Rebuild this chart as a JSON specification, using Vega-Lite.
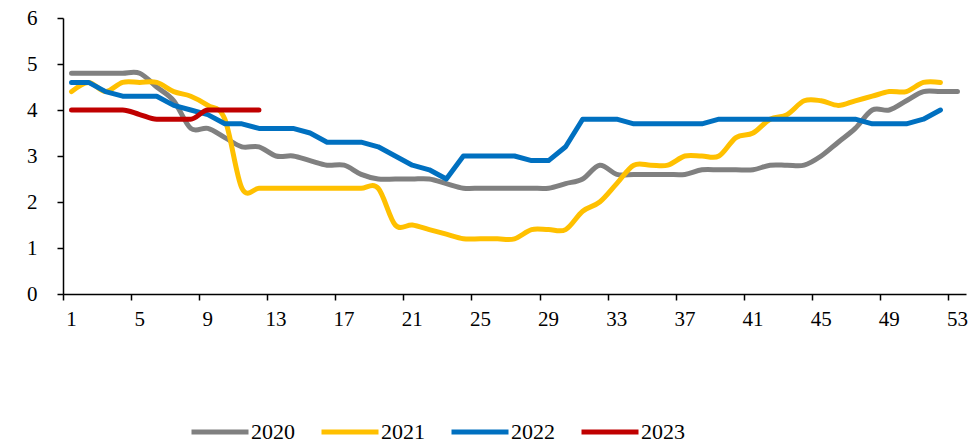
{
  "$schema": "https://vega.github.io/schema/vega-lite/v6.json",
  "width": 903,
  "height": 276,
  "autosize": {"type": "none"},
  "padding": {"left": 63, "top": 18, "right": 10, "bottom": 151},
  "background": "white",
  "config": {
    "view": {"stroke": null},
    "font": "Liberation Serif",
    "axis": {"grid": false, "domainColor": "#000000", "domainWidth": 1.5, "tickColor": "#000000", "tickWidth": 1.5, "labelFont": "Liberation Serif", "labelFontSize": 21, "labelColor": "#000000", "title": null}
  },
  "datasets": {
    "rows": [
      {"week": 1, "year": "2020", "value": 4.8}, {"week": 2, "year": "2020", "value": 4.8}, {"week": 3, "year": "2020", "value": 4.8}, {"week": 4, "year": "2020", "value": 4.8}, {"week": 5, "year": "2020", "value": 4.8}, {"week": 6, "year": "2020", "value": 4.5}, {"week": 7, "year": "2020", "value": 4.2}, {"week": 8, "year": "2020", "value": 3.6}, {"week": 9, "year": "2020", "value": 3.6}, {"week": 10, "year": "2020", "value": 3.4}, {"week": 11, "year": "2020", "value": 3.2}, {"week": 12, "year": "2020", "value": 3.2}, {"week": 13, "year": "2020", "value": 3.0}, {"week": 14, "year": "2020", "value": 3.0}, {"week": 15, "year": "2020", "value": 2.9}, {"week": 16, "year": "2020", "value": 2.8}, {"week": 17, "year": "2020", "value": 2.8}, {"week": 18, "year": "2020", "value": 2.6}, {"week": 19, "year": "2020", "value": 2.5}, {"week": 20, "year": "2020", "value": 2.5}, {"week": 21, "year": "2020", "value": 2.5}, {"week": 22, "year": "2020", "value": 2.5}, {"week": 23, "year": "2020", "value": 2.4}, {"week": 24, "year": "2020", "value": 2.3}, {"week": 25, "year": "2020", "value": 2.3}, {"week": 26, "year": "2020", "value": 2.3}, {"week": 27, "year": "2020", "value": 2.3}, {"week": 28, "year": "2020", "value": 2.3}, {"week": 29, "year": "2020", "value": 2.3}, {"week": 30, "year": "2020", "value": 2.4}, {"week": 31, "year": "2020", "value": 2.5}, {"week": 32, "year": "2020", "value": 2.8}, {"week": 33, "year": "2020", "value": 2.6}, {"week": 34, "year": "2020", "value": 2.6}, {"week": 35, "year": "2020", "value": 2.6}, {"week": 36, "year": "2020", "value": 2.6}, {"week": 37, "year": "2020", "value": 2.6}, {"week": 38, "year": "2020", "value": 2.7}, {"week": 39, "year": "2020", "value": 2.7}, {"week": 40, "year": "2020", "value": 2.7}, {"week": 41, "year": "2020", "value": 2.7}, {"week": 42, "year": "2020", "value": 2.8}, {"week": 43, "year": "2020", "value": 2.8}, {"week": 44, "year": "2020", "value": 2.8}, {"week": 45, "year": "2020", "value": 3.0}, {"week": 46, "year": "2020", "value": 3.3}, {"week": 47, "year": "2020", "value": 3.6}, {"week": 48, "year": "2020", "value": 4.0}, {"week": 49, "year": "2020", "value": 4.0}, {"week": 50, "year": "2020", "value": 4.2}, {"week": 51, "year": "2020", "value": 4.4}, {"week": 52, "year": "2020", "value": 4.4}, {"week": 53, "year": "2020", "value": 4.4},
      {"week": 1, "year": "2021", "value": 4.4}, {"week": 2, "year": "2021", "value": 4.6}, {"week": 3, "year": "2021", "value": 4.4}, {"week": 4, "year": "2021", "value": 4.6}, {"week": 5, "year": "2021", "value": 4.6}, {"week": 6, "year": "2021", "value": 4.6}, {"week": 7, "year": "2021", "value": 4.4}, {"week": 8, "year": "2021", "value": 4.3}, {"week": 9, "year": "2021", "value": 4.1}, {"week": 10, "year": "2021", "value": 3.8}, {"week": 11, "year": "2021", "value": 2.3}, {"week": 12, "year": "2021", "value": 2.3}, {"week": 13, "year": "2021", "value": 2.3}, {"week": 14, "year": "2021", "value": 2.3}, {"week": 15, "year": "2021", "value": 2.3}, {"week": 16, "year": "2021", "value": 2.3}, {"week": 17, "year": "2021", "value": 2.3}, {"week": 18, "year": "2021", "value": 2.3}, {"week": 19, "year": "2021", "value": 2.3}, {"week": 20, "year": "2021", "value": 1.5}, {"week": 21, "year": "2021", "value": 1.5}, {"week": 22, "year": "2021", "value": 1.4}, {"week": 23, "year": "2021", "value": 1.3}, {"week": 24, "year": "2021", "value": 1.2}, {"week": 25, "year": "2021", "value": 1.2}, {"week": 26, "year": "2021", "value": 1.2}, {"week": 27, "year": "2021", "value": 1.2}, {"week": 28, "year": "2021", "value": 1.4}, {"week": 29, "year": "2021", "value": 1.4}, {"week": 30, "year": "2021", "value": 1.4}, {"week": 31, "year": "2021", "value": 1.8}, {"week": 32, "year": "2021", "value": 2.0}, {"week": 33, "year": "2021", "value": 2.4}, {"week": 34, "year": "2021", "value": 2.8}, {"week": 35, "year": "2021", "value": 2.8}, {"week": 36, "year": "2021", "value": 2.8}, {"week": 37, "year": "2021", "value": 3.0}, {"week": 38, "year": "2021", "value": 3.0}, {"week": 39, "year": "2021", "value": 3.0}, {"week": 40, "year": "2021", "value": 3.4}, {"week": 41, "year": "2021", "value": 3.5}, {"week": 42, "year": "2021", "value": 3.8}, {"week": 43, "year": "2021", "value": 3.9}, {"week": 44, "year": "2021", "value": 4.2}, {"week": 45, "year": "2021", "value": 4.2}, {"week": 46, "year": "2021", "value": 4.1}, {"week": 47, "year": "2021", "value": 4.2}, {"week": 48, "year": "2021", "value": 4.3}, {"week": 49, "year": "2021", "value": 4.4}, {"week": 50, "year": "2021", "value": 4.4}, {"week": 51, "year": "2021", "value": 4.6}, {"week": 52, "year": "2021", "value": 4.6},
      {"week": 1, "year": "2022", "value": 4.6}, {"week": 2, "year": "2022", "value": 4.6}, {"week": 3, "year": "2022", "value": 4.4}, {"week": 4, "year": "2022", "value": 4.3}, {"week": 5, "year": "2022", "value": 4.3}, {"week": 6, "year": "2022", "value": 4.3}, {"week": 7, "year": "2022", "value": 4.1}, {"week": 8, "year": "2022", "value": 4.0}, {"week": 9, "year": "2022", "value": 3.9}, {"week": 10, "year": "2022", "value": 3.7}, {"week": 11, "year": "2022", "value": 3.7}, {"week": 12, "year": "2022", "value": 3.6}, {"week": 13, "year": "2022", "value": 3.6}, {"week": 14, "year": "2022", "value": 3.6}, {"week": 15, "year": "2022", "value": 3.5}, {"week": 16, "year": "2022", "value": 3.3}, {"week": 17, "year": "2022", "value": 3.3}, {"week": 18, "year": "2022", "value": 3.3}, {"week": 19, "year": "2022", "value": 3.2}, {"week": 20, "year": "2022", "value": 3.0}, {"week": 21, "year": "2022", "value": 2.8}, {"week": 22, "year": "2022", "value": 2.7}, {"week": 23, "year": "2022", "value": 2.5}, {"week": 24, "year": "2022", "value": 3.0}, {"week": 25, "year": "2022", "value": 3.0}, {"week": 26, "year": "2022", "value": 3.0}, {"week": 27, "year": "2022", "value": 3.0}, {"week": 28, "year": "2022", "value": 2.9}, {"week": 29, "year": "2022", "value": 2.9}, {"week": 30, "year": "2022", "value": 3.2}, {"week": 31, "year": "2022", "value": 3.8}, {"week": 32, "year": "2022", "value": 3.8}, {"week": 33, "year": "2022", "value": 3.8}, {"week": 34, "year": "2022", "value": 3.7}, {"week": 35, "year": "2022", "value": 3.7}, {"week": 36, "year": "2022", "value": 3.7}, {"week": 37, "year": "2022", "value": 3.7}, {"week": 38, "year": "2022", "value": 3.7}, {"week": 39, "year": "2022", "value": 3.8}, {"week": 40, "year": "2022", "value": 3.8}, {"week": 41, "year": "2022", "value": 3.8}, {"week": 42, "year": "2022", "value": 3.8}, {"week": 43, "year": "2022", "value": 3.8}, {"week": 44, "year": "2022", "value": 3.8}, {"week": 45, "year": "2022", "value": 3.8}, {"week": 46, "year": "2022", "value": 3.8}, {"week": 47, "year": "2022", "value": 3.8}, {"week": 48, "year": "2022", "value": 3.7}, {"week": 49, "year": "2022", "value": 3.7}, {"week": 50, "year": "2022", "value": 3.7}, {"week": 51, "year": "2022", "value": 3.8}, {"week": 52, "year": "2022", "value": 4.0},
      {"week": 1, "year": "2023", "value": 4.0}, {"week": 2, "year": "2023", "value": 4.0}, {"week": 3, "year": "2023", "value": 4.0}, {"week": 4, "year": "2023", "value": 4.0}, {"week": 5, "year": "2023", "value": 3.9}, {"week": 6, "year": "2023", "value": 3.8}, {"week": 7, "year": "2023", "value": 3.8}, {"week": 8, "year": "2023", "value": 3.8}, {"week": 9, "year": "2023", "value": 4.0}, {"week": 10, "year": "2023", "value": 4.0}, {"week": 11, "year": "2023", "value": 4.0}, {"week": 12, "year": "2023", "value": 4.0}
    ]
  },
  "data": {"name": "rows"},
  "encoding": {
    "x": {
      "field": "week", "type": "ordinal",
      "scale": {"type": "band", "paddingInner": 0, "paddingOuter": 0, "domain": [1,2,3,4,5,6,7,8,9,10,11,12,13,14,15,16,17,18,19,20,21,22,23,24,25,26,27,28,29,30,31,32,33,34,35,36,37,38,39,40,41,42,43,44,45,46,47,48,49,50,51,52,53]},
      "axis": {"values": [1,5,9,13,17,21,25,29,33,37,41,45,49,53], "bandPosition": 0, "labelAngle": 0, "tickSize": 6, "labelPadding": 8, "labelFlush": false, "labelOverlap": false}
    },
    "y": {
      "field": "value", "type": "quantitative",
      "scale": {"domain": [0, 6], "nice": false, "zero": true},
      "axis": {"values": [0,1,2,3,4,5,6], "tickSize": 6, "labelPadding": 20, "labelFlush": false}
    },
    "color": {
      "field": "year", "type": "nominal",
      "scale": {"domain": ["2020","2021","2022","2023"], "range": ["#808080","#FFC000","#0070C0","#C00000"]},
      "legend": {
        "title": null, "orient": "none", "direction": "horizontal",
        "legendX": 126, "legendY": 383,
        "symbolType": "stroke",
        "symbolSize": 3249, "symbolStrokeWidth": 5,
        "labelFont": "Liberation Serif", "labelFontSize": 22, "labelColor": "#000000",
        "labelOffset": 0, "columnPadding": 16, "padding": 0
      }
    }
  },
  "layer": [
    {"transform": [{"filter": "datum.year == '2020' || datum.year == '2021'"}], "mark": {"type": "line", "interpolate": "cardinal", "strokeWidth": 5, "strokeCap": "round", "strokeJoin": "round"}},
    {"transform": [{"filter": "datum.year == '2022'"}], "mark": {"type": "line", "interpolate": "linear", "strokeWidth": 5, "strokeCap": "round", "strokeJoin": "round"}},
    {"transform": [{"filter": "datum.year == '2023'"}], "mark": {"type": "line", "interpolate": "monotone", "strokeWidth": 5, "strokeCap": "round", "strokeJoin": "round"}}
  ]
}
